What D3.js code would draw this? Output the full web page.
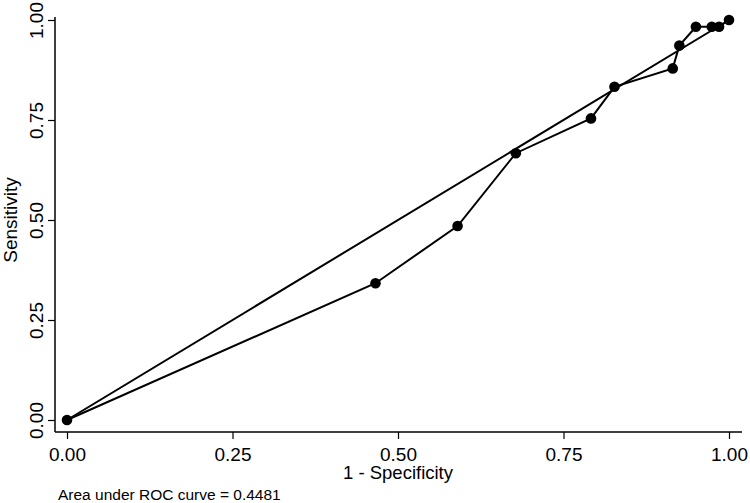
<!DOCTYPE html>
<html><head><meta charset="utf-8">
<script src="https://cdn.jsdelivr.net/npm/d3@7"></script>
<style>body{margin:0;background:#fff}svg{display:block}text{font-family:"Liberation Sans",Arial,sans-serif;fill:#000}</style>
</head><body>
<script>
const specComp = [0, 0.466, 0.590, 0.678, 0.7915, 0.827, 0.915, 0.925, 0.950, 0.974, 0.985, 1];
const sensitivity = [0, 0.342, 0.485, 0.667, 0.754, 0.833, 0.879, 0.936, 0.983, 0.983, 0.983, 1];
const refLine = [[0,0],[1,1]];
const tickVals = [0, 0.25, 0.5, 0.75, 1];
const aucText = "Area under ROC curve = 0.4481";

const W = 750, H = 503;
const svg = d3.select("body").append("svg").attr("width", W).attr("height", H);
const x = d3.scaleLinear().domain([0,1]).range([67,729]);
const y = d3.scaleLinear().domain([0,1]).range([420,20]);

// axis lines
svg.append("line").attr("x1",55).attr("x2",55).attr("y1",17).attr("y2",432).attr("stroke","#000").attr("stroke-width",1.5);
svg.append("line").attr("x1",55).attr("x2",742).attr("y1",432).attr("y2",432).attr("stroke","#000").attr("stroke-width",1.5);

// x axis
const xa = svg.append("g").attr("transform","translate(0,432)")
  .call(d3.axisBottom(x).tickValues(tickVals).tickFormat(d3.format(".2f")).tickSize(7).tickPadding(3));
xa.select(".domain").remove();
xa.selectAll("line").attr("stroke","#000").attr("stroke-width",1.2);
xa.selectAll("text").attr("font-size","19px").attr("font-family","Liberation Sans, Arial, sans-serif").attr("dy","0.72em").attr("y",15);

// y axis
const ya = svg.append("g").attr("transform","translate(55,0)")
  .call(d3.axisLeft(y).tickValues(tickVals).tickFormat(d3.format(".2f")).tickSize(7));
ya.select(".domain").remove();
ya.selectAll("line").attr("stroke","#000").attr("stroke-width",1.2);
ya.selectAll("text").attr("font-size","19px").attr("font-family","Liberation Sans, Arial, sans-serif")
  .attr("x",null).attr("dy",null).attr("text-anchor","middle")
  .attr("transform","translate(-12,0) rotate(-90)").attr("y",0).attr("dy","0");

// titles
svg.append("text").attr("x",398).attr("y",479).attr("text-anchor","middle").attr("font-size","18.5px").text("1 - Specificity");
svg.append("text").attr("transform","translate(17,220) rotate(-90)").attr("text-anchor","middle").attr("font-size","19px").text("Sensitivity");
svg.append("text").attr("x",58).attr("y",500).attr("font-size","15.5px").text(aucText);

// lines
const line = d3.line().x(d=>x(d[0])).y(d=>y(d[1]));
svg.append("path").datum(refLine).attr("d",line).attr("fill","none").attr("stroke","#000").attr("stroke-width",2);
const pts = specComp.map((v,i)=>[v, sensitivity[i]]);
svg.append("path").datum(pts).attr("d",line).attr("fill","none").attr("stroke","#000").attr("stroke-width",2);
svg.selectAll("circle.pt").data(pts).enter().append("circle").attr("class","pt")
  .attr("cx",d=>x(d[0])).attr("cy",d=>y(d[1])).attr("r",5.3).attr("fill","#000");
</script>
</body></html>
